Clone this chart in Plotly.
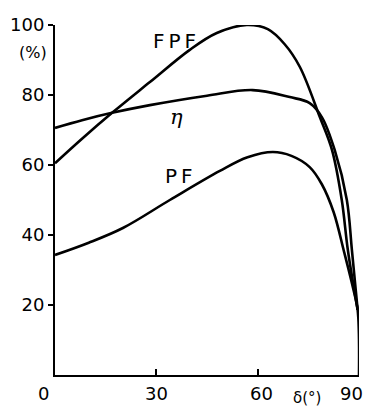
import plotly.graph_objects as go

# --- data ---
fpf_delta = [0, 8, 16.9, 28.1, 39.9, 47.9, 56.8, 63, 68, 72.5, 78.4, 82.0, 84.9, 86.7, 89.6]
fpf_vals = [60.5, 67.5, 74.9, 83.7, 92.9, 97.7, 100.0, 98.8, 94.5, 88.0, 73.7, 64.3, 50.0, 35.7, 18.6]

eta_delta = [0, 8, 16.9, 28.1, 45, 58.5, 69.5, 75.4, 79.0, 82.8, 86.4, 87.9, 89.6]
eta_vals = [70.6, 72.8, 74.9, 77.1, 79.8, 81.4, 79.4, 77.7, 73.7, 64.3, 50.0, 35.7, 18.6]

pf_delta = [0, 10, 20.1, 34.0, 48.8, 57, 64.5, 70, 75.4, 79, 82.5, 85.5, 88.2, 89.6, 90.0]
pf_vals = [34.3, 37.8, 42.0, 50.0, 58.3, 62.2, 63.7, 62.6, 59.4, 54.5, 46.5, 35.5, 25.0, 18.6, 0.0]

x_ticks = [0, 30, 60, 90]
x_labels = ["0", "30", "60", "90"]
x_label_shift = [-12, 0, 4, -8]
y_ticks = [20, 40, 60, 80, 100]

line_style = dict(color="black", width=2.6, shape="spline", smoothing=1.0)

fig = go.Figure()
for xs, ys, name in [(fpf_delta, fpf_vals, "FPF"), (eta_delta, eta_vals, "η"), (pf_delta, pf_vals, "PF")]:
    fig.add_trace(go.Scatter(x=xs, y=ys, mode="lines", name=name, line=line_style,
                             cliponaxis=False, showlegend=False))

font = dict(family="DejaVu Sans", size=18, color="black")
lab_font = dict(family="DejaVu Sans", size=20, color="black")

fig.add_annotation(x=35.5, y=95.4, text="F\u2009P\u2009F", showarrow=False, font=lab_font)
fig.add_annotation(x=36.1, y=73.7, text="<i>η</i>", showarrow=False,
                   font=dict(family="DejaVu Serif", size=21, color="black"))
fig.add_annotation(x=36.7, y=56.9, text="P\u2009F", showarrow=False, font=lab_font)
fig.add_annotation(xref="paper", yref="paper", x=-0.072, y=0.92, xanchor="center", yanchor="middle",
                   text="(%)", showarrow=False, font=dict(family="DejaVu Sans", size=16, color="black"))
fig.add_annotation(x=74.5, y=0, yshift=-23, xanchor="center", yanchor="middle", text="δ(°)",
                   showarrow=False, font=dict(family="DejaVu Sans", size=15, color="black"))

for v, t, s in zip(x_ticks, x_labels, x_label_shift):
    fig.add_annotation(x=v, y=0, yshift=-18, xshift=s, xanchor="center", yanchor="middle",
                       text=t, showarrow=False, font=font)

fig.update_xaxes(range=[0, 90], tickvals=x_ticks, ticks="inside", ticklen=6, tickwidth=1.5,
                 tickcolor="black", showline=True, linecolor="black", linewidth=2,
                 showgrid=False, zeroline=False, showticklabels=False)
fig.update_yaxes(range=[0, 100], tickvals=y_ticks, ticks="outside", ticklen=5, tickwidth=1.5,
                 tickcolor="black", showline=True, linecolor="black", linewidth=2,
                 showgrid=False, zeroline=False, tickfont=font, ticklabelstandoff=0)

fig.update_layout(width=367, height=408, margin=dict(l=55, r=8, t=25, b=33),
                  plot_bgcolor="white", paper_bgcolor="white")

fig.write_html("out.html")
